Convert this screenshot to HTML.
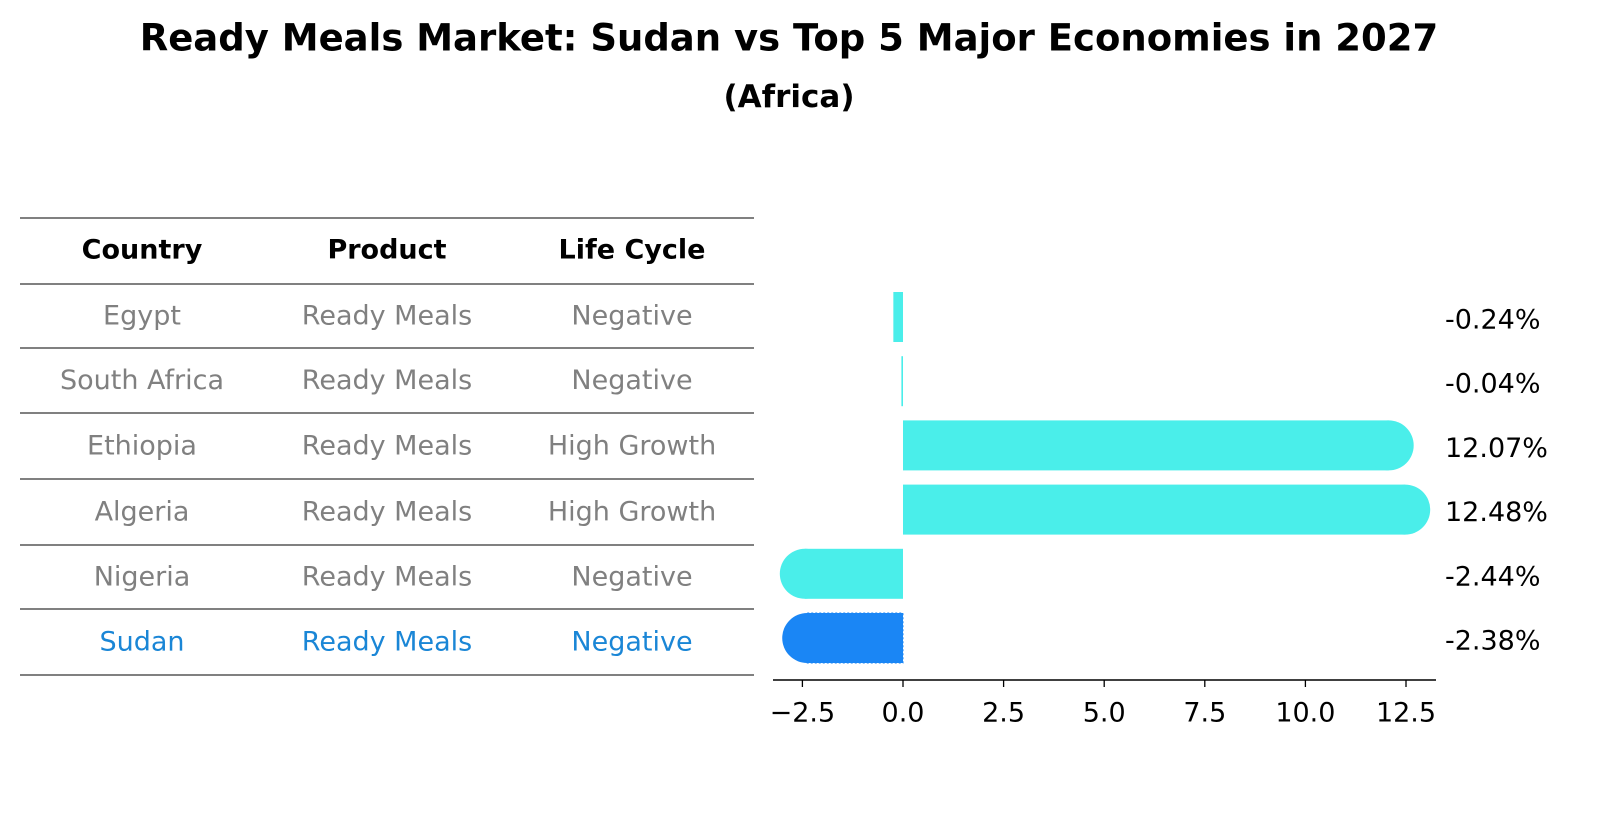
<!DOCTYPE html>
<html><head><meta charset="utf-8"><style>
body{margin:0;background:#fff;font-family:"DejaVu Sans","Liberation Sans",sans-serif;}
#wrap{position:relative;width:1604px;height:823px;overflow:hidden}
</style></head><body>
<div id="wrap">
<svg width="1604" height="823" xmlns="http://www.w3.org/2000/svg" font-family="DejaVu Sans, Liberation Sans, sans-serif">
<text x="789" y="38" text-anchor="middle" dominant-baseline="central" font-size="37" font-weight="bold">Ready Meals Market: Sudan vs Top 5 Major Economies in 2027</text>
<text x="789" y="97" text-anchor="middle" dominant-baseline="central" font-size="31" font-weight="bold">(Africa)</text>
<g id="table"></g>
<g id="bars"></g>
</svg></div>
<script>
const countries=["Egypt","South Africa","Ethiopia","Algeria","Nigeria","Sudan"];
const products=["Ready Meals","Ready Meals","Ready Meals","Ready Meals","Ready Meals","Ready Meals"];
const lifeCycles=["Negative","Negative","High Growth","High Growth","Negative","Negative"];
const values=[-0.24,-0.04,12.07,12.48,-2.44,-2.38];
const xTicks=[-2.5,0.0,2.5,5.0,7.5,10.0,12.5];
const NS="http://www.w3.org/2000/svg";
function mk(tag,attrs,parent){const e=document.createElementNS(NS,tag);for(const k in attrs)e.setAttribute(k,attrs[k]);parent.appendChild(e);return e;}
const table=document.getElementById('table');
const lineYs=[218,284,348,413,479,545,609,675];
lineYs.forEach(y=>{const l=mk('line',{x1:20,x2:754,y1:y,y2:y,stroke:'#000','stroke-width':1},table);

});
const colX=[142,387,632];
["Country","Product","Life Cycle"].forEach((h,i)=>{const t=mk('text',{x:colX[i],y:250,'text-anchor':'middle','dominant-baseline':'central','font-size':27,'font-weight':'bold'},table);t.textContent=h;

});
countries.forEach((c,r)=>{const y=(lineYs[r+1]+lineYs[r+2])/2;const col=c==="Sudan"?"#1a86d6":"#808080";
[c,products[r],lifeCycles[r]].forEach((v,i)=>{const t=mk('text',{x:colX[i],y:y,'text-anchor':'middle','dominant-baseline':'central','font-size':27,fill:col},table);t.textContent=v;

});});
const bars=document.getElementById('bars');
const x0=903, pxPer=40.24;
const xs=v=>x0+v*pxPer;
const yc=i=>317+i*64.2;
const bh=50, r=25;
values.forEach((v,i)=>{
 const isS=countries[i]==="Sudan";const fill=isS?"#1a86f5":"#4aeeea";
 const g=mk('g',{},bars);
 
 
 const xa=Math.min(xs(0),xs(v)), w=Math.abs(xs(v)-xs(0));
 mk('rect',{x:xa,y:yc(i)-bh/2,width:Math.max(w,1.5),height:bh,fill:fill,stroke:isS?'#1a86f5':'none','stroke-dasharray':isS?'2 2':'none'},g);
 if(Math.abs(v)>1) mk('circle',{cx:xs(v),cy:yc(i),r:r,fill:fill},g);
 const t=mk('text',{x:1445,y:yc(i)+3,'dominant-baseline':'central','font-size':27,fill:'#000'},bars);
 t.textContent=v.toFixed(2)+"%";
 
 
});
const ax=mk('line',{x1:773,x2:1436,y1:680,y2:680,stroke:'#000','stroke-width':1.5},bars);


xTicks.forEach(v=>{mk('line',{x1:xs(v),x2:xs(v),y1:680,y2:687,stroke:'#000','stroke-width':1.3},bars);
 const t=mk('text',{x:xs(v),y:713,'text-anchor':'middle','dominant-baseline':'central','font-size':27},bars);
 t.textContent=(v<0?"\u2212":"")+Math.abs(v).toFixed(1);
 
 });
</script>
</body></html>
